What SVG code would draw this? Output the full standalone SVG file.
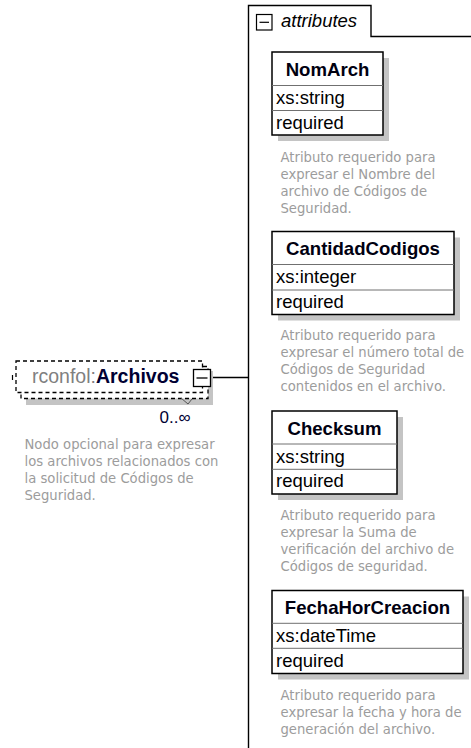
<svg xmlns="http://www.w3.org/2000/svg" width="471" height="748" viewBox="0 0 471 748">
<style>
.bg{fill:#ffffff}
.shadow{fill:#c4c4c4}
.box{fill:#ffffff;stroke:#000000;stroke-width:1.5}
.div{stroke:#707070;stroke-width:1}
.line{fill:none;stroke:#000000;stroke-width:1.4}
.dash{fill:#ffffff;stroke:#000000;stroke-width:1.3;stroke-dasharray:4 3}
.hdr{font-family:"Liberation Sans",Arial,sans-serif;font-size:18.6px;font-weight:bold;fill:#000010;text-anchor:middle}
.row{font-family:"Liberation Sans",Arial,sans-serif;font-size:18.5px;fill:#000000}
.desc{font-family:"DejaVu Sans",Tahoma,sans-serif;font-size:13.2px;fill:#9c9c9c}
.pre{font-family:"Liberation Sans",Arial,sans-serif;font-size:19.5px;fill:#808080}
.nm{font-weight:bold;fill:#000033}
.mult{font-family:"Liberation Sans",Arial,sans-serif;font-size:17px;fill:#000033}
.it{font-family:"Liberation Sans",Arial,sans-serif;font-size:18.5px;font-style:italic;fill:#000000}
</style>
<rect class="bg" x="0" y="0" width="471" height="748"/>

<g id="connectors">
  <line class="line" x1="211" y1="377.5" x2="248" y2="377.5"/>
</g>

<g id="attributes">
  <path class="line" d="M248.5,748 V5.5 H371 V36.5 H471"/>
  <rect x="256.5" y="14.5" width="15.5" height="15.5" fill="#ffffff" stroke="#000000" stroke-width="1.2"/>
  <line x1="259.5" y1="22.3" x2="269" y2="22.3" stroke="#000000" stroke-width="1.2"/>
  <text class="it" x="281" y="27">attributes</text>
</g>

<g id="rconfol-Archivos">
  <rect class="shadow" x="26" y="371" width="187" height="34"/>
  <rect class="dash" x="21" y="366.5" width="187" height="32"/>
  <rect class="dash" x="16" y="361" width="186.5" height="31.5"/>
  <line x1="12.5" y1="375" x2="12.5" y2="380" stroke="#000000" stroke-width="1.2"/>
  <polyline points="181,398 188,404 192,399" fill="none" stroke="#555555" stroke-width="1"/>
  <text class="pre" x="32" y="383">rconfol:<tspan class="nm">Archivos</tspan></text>
  <rect x="193.5" y="369.5" width="17" height="17" fill="#ffffff" stroke="#000000" stroke-width="1.3"/>
  <line x1="196.5" y1="378" x2="207.5" y2="378" stroke="#000000" stroke-width="1.3"/>
  <text class="mult" x="159.5" y="423">0..∞</text>
  <text class="desc" x="24.5" y="448.5">Nodo opcional para expresar</text>
  <text class="desc" x="24.5" y="465.5">los archivos relacionados con</text>
  <text class="desc" x="24.5" y="482.5">la solicitud de Códigos de</text>
  <text class="desc" x="24.5" y="499.5">Seguridad.</text>
</g>

<g id="NomArch">
  <rect class="shadow" x="278" y="58" width="111" height="83"/>
  <rect class="box" x="272" y="52" width="111" height="83"/>
  <line class="div" x1="272" y1="85.5" x2="383" y2="85.5"/>
  <line class="div" x1="272" y1="110.5" x2="383" y2="110.5"/>
  <text class="hdr" x="327.5" y="76">NomArch</text>
  <text class="row" x="276" y="104">xs:string</text>
  <text class="row" x="276" y="128.5">required</text>
  <text class="desc" x="280.5" y="162">Atributo requerido para</text>
  <text class="desc" x="280.5" y="179">expresar el Nombre del</text>
  <text class="desc" x="280.5" y="196">archivo de Códigos de</text>
  <text class="desc" x="280.5" y="213">Seguridad.</text>
</g>

<g id="CantidadCodigos">
  <rect class="shadow" x="278" y="237.5" width="182" height="83"/>
  <rect class="box" x="272" y="231.5" width="182" height="83"/>
  <line class="div" x1="272" y1="264.5" x2="454" y2="264.5"/>
  <line class="div" x1="272" y1="290" x2="454" y2="290"/>
  <text class="hdr" x="363" y="255">CantidadCodigos</text>
  <text class="row" x="276" y="283">xs:integer</text>
  <text class="row" x="276" y="308">required</text>
  <text class="desc" x="280.5" y="340">Atributo requerido para</text>
  <text class="desc" x="280.5" y="357">expresar el número total de</text>
  <text class="desc" x="280.5" y="374">Códigos de Seguridad</text>
  <text class="desc" x="280.5" y="391">contenidos en el archivo.</text>
</g>

<g id="Checksum">
  <rect class="shadow" x="278" y="417" width="125" height="83"/>
  <rect class="box" x="272" y="411" width="125" height="83"/>
  <line class="div" x1="272" y1="444" x2="397" y2="444"/>
  <line class="div" x1="272" y1="469.3" x2="397" y2="469.3"/>
  <text class="hdr" x="334.5" y="434.5">Checksum</text>
  <text class="row" x="276" y="462.5">xs:string</text>
  <text class="row" x="276" y="487">required</text>
  <text class="desc" x="280.5" y="520">Atributo requerido para</text>
  <text class="desc" x="280.5" y="537">expresar la Suma de</text>
  <text class="desc" x="280.5" y="554">verificación del archivo de</text>
  <text class="desc" x="280.5" y="571">Códigos de seguridad.</text>
</g>

<g id="FechaHorCreacion">
  <rect class="shadow" x="278" y="596.5" width="191" height="83"/>
  <rect class="box" x="272" y="590.5" width="191" height="83"/>
  <line class="div" x1="272" y1="623.3" x2="463" y2="623.3"/>
  <line class="div" x1="272" y1="648.3" x2="463" y2="648.3"/>
  <text class="hdr" x="367.5" y="614">FechaHorCreacion</text>
  <text class="row" x="276" y="642">xs:dateTime</text>
  <text class="row" x="276" y="666.5">required</text>
  <text class="desc" x="280.5" y="700">Atributo requerido para</text>
  <text class="desc" x="280.5" y="717">expresar la fecha y hora de</text>
  <text class="desc" x="280.5" y="734">generación del archivo.</text>
</g>
</svg>
